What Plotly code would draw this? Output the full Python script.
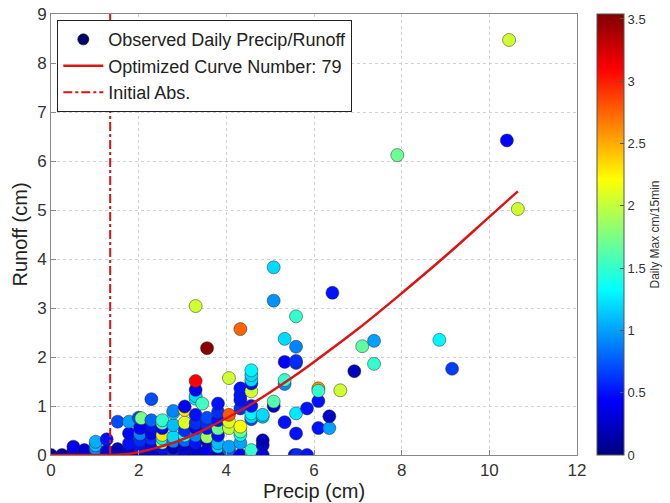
import plotly.graph_objects as go

# ---------------- data ----------------
precip = [
    0.0, 0.25,
    0.51, 0.51, 0.51,
    0.76, 0.76, 0.76,
    1.02, 1.02, 1.02, 1.02, 1.02,
    1.27, 1.27, 1.27,
    1.52, 1.52, 1.52, 1.52,
    1.78, 1.78, 1.78, 1.78, 1.78,
    2.03, 2.03, 2.03, 2.03, 2.03, 2.03, 2.0, 2.06,
    2.29, 2.29, 2.29, 2.29, 2.29, 2.29, 2.29, 2.29,
    2.54, 2.54, 2.54, 2.54, 2.54, 2.54, 2.54, 2.54, 2.54,
    2.79, 2.79, 2.79, 2.79, 2.79, 2.79, 2.79, 2.79,
    3.05, 3.05, 3.05, 3.05, 3.05, 3.05, 3.05, 3.05, 3.05,
    3.30, 3.30, 3.30, 3.30, 3.30, 3.30, 3.30, 3.30, 3.30, 3.30, 3.30, 3.30,
    3.56, 3.56, 3.56, 3.56, 3.56, 3.56, 3.56, 3.45, 3.56,
    3.81, 3.81, 3.81, 3.81, 3.81, 3.81, 3.81, 3.81,
    4.06, 4.06, 4.06, 4.06, 4.06, 4.06, 4.06, 4.06,
    4.32, 4.32, 4.32, 4.32, 4.32, 4.32, 4.32, 4.32, 4.32, 4.32,
    4.57, 4.57, 4.57, 4.57, 4.57, 4.57, 4.57, 4.57, 4.57, 4.57, 4.57, 4.57,
    4.83, 4.83, 4.83, 4.83, 4.83,
    5.08, 5.08, 5.08, 5.08,
    5.33, 5.33, 5.33, 5.33, 5.33,
    5.56, 5.62, 5.59, 5.59, 5.59, 5.59, 5.59, 5.59,
    5.84, 5.84,
    6.10, 6.10, 6.10, 6.10,
    6.35, 6.35,
    6.42, 6.60, 6.92, 7.10, 7.37, 7.37, 7.90, 8.86, 9.15,
    10.40, 10.45, 10.65,
]
runoff = [
    0.0, 0.0,
    0.0, 0.08, 0.17,
    0.0, 0.08, 0.10,
    0.0, 0.05, 0.12, 0.20, 0.27,
    0.0, 0.08, 0.32,
    0.0, 0.06, 0.12, 0.68,
    0.0, 0.10, 0.24, 0.44, 0.68,
    0.0, 0.05, 0.15, 0.30, 0.43, 0.55, 0.76, 0.75,
    0.0, 0.10, 0.20, 0.33, 0.44, 0.60, 0.71, 1.14,
    0.0, 0.07, 0.15, 0.25, 0.34, 0.41, 0.55, 0.65, 0.71,
    0.0, 0.05, 0.15, 0.28, 0.37, 0.61, 0.86, 0.90,
    0.0, 0.10, 0.20, 0.30, 0.40, 0.50, 0.66, 0.92, 0.99,
    0.0, 0.10, 0.25, 0.40, 0.55, 0.65, 0.82, 1.15, 1.20, 1.33, 1.51, 3.04,
    0.0, 0.10, 0.30, 0.37, 0.55, 0.63, 0.76, 1.05, 2.18,
    0.0, 0.17, 0.24, 0.40, 0.54, 0.71, 0.88, 1.05,
    0.0, 0.10, 0.17, 0.58, 0.55, 0.68, 0.82, 1.57,
    0.0, 0.25, 0.41, 0.48, 0.58, 0.95, 1.12, 1.22, 1.36, 2.57,
    0.0, 0.05, 0.10, 0.73, 0.78, 0.85, 1.00, 1.30, 1.46, 1.53, 1.63, 1.73,
    0.0, 0.20, 0.30, 0.78, 0.82,
    1.00, 1.09, 3.15, 3.83,
    0.67, 1.45, 1.53, 1.90, 2.37,
    0.0, 0.0, 0.44, 0.85, 1.88, 1.92, 2.21, 2.83,
    0.0, 0.95,
    0.55, 1.10, 1.36, 1.31,
    0.55, 0.79,
    3.31, 1.32, 1.71, 2.22, 2.33, 1.86, 6.12, 2.35, 1.76,
    6.42, 8.47, 5.02,
]
max_intensity = [
    0.10, 0.10,
    0.20, 0.30, 0.40,
    0.10, 0.20, 0.30,
    0.20, 0.40, 0.90, 1.10, 1.05,
    0.10, 0.30, 0.50,
    0.10, 0.30, 0.20, 0.70,
    0.20, 0.30, 0.50, 0.45, 1.00,
    0.10, 0.30, 0.50, 0.60, 0.90, 0.40, 0.70, 1.75,
    0.20, 0.30, 0.40, 0.60, 0.40, 0.50, 0.80, 0.70,
    0.10, 0.30, 0.50, 1.90, 1.30, 2.30, 0.40, 1.60, 1.50,
    0.30, 0.60, 0.20, 0.90, 1.20, 1.10, 1.20, 0.90,
    0.20, 0.40, 0.30, 0.80, 1.40, 0.60, 2.10, 2.30, 0.40,
    0.10, 0.30, 0.50, 0.90, 0.40, 0.60, 0.50, 1.30, 1.20, 0.40, 3.10, 2.05,
    0.20, 0.40, 0.30, 1.90, 0.50, 0.60, 0.70, 1.55, 3.50,
    0.20, 1.20, 1.10, 0.50, 1.70, 0.50, 0.60, 0.50,
    0.40, 0.80, 1.00, 1.20, 2.00, 2.10, 2.80, 2.05,
    0.40, 1.00, 1.30, 1.70, 2.20, 0.60, 0.50, 0.50, 0.50, 2.75,
    0.50, 1.60, 1.50, 0.70, 1.20, 1.30, 0.50, 2.05, 0.50, 1.20, 1.20, 1.30,
    0.40, 0.30, 0.20, 1.10, 1.20,
    0.25, 1.60, 0.95, 1.20,
    0.50, 0.90, 1.50, 0.45, 1.20,
    0.50, 0.60, 0.50, 1.25, 0.60, 0.60, 0.90, 1.50,
    0.50, 0.50,
    0.50, 0.50, 2.60, 1.50,
    1.00, 0.25,
    0.50, 2.05, 0.20, 1.65, 1.00, 1.50, 1.70, 1.30, 0.65,
    0.45, 2.05, 2.05,
]

# optimized curve (CN 79)
curve_precip = [0.0, 0.5, 1.0, 1.35, 1.5, 1.75, 2.0, 2.25, 2.5, 3.0, 3.5, 4.0,
                4.5, 5.0, 5.5, 6.0, 7.0, 8.0, 9.0, 10.0, 10.65]
curve_runoff = [0.0, 0.0, 0.0, 0.0, 0.003, 0.022, 0.057, 0.11, 0.17, 0.32, 0.52,
                0.75, 1.0, 1.28, 1.58, 1.90, 2.57, 3.30, 4.06, 4.86, 5.38]

initial_abs = 1.35          # cm
ia_span = [0, 9]            # runoff extent of the initial-abstraction line

x_ticks = [0, 2, 4, 6, 8, 10, 12]
y_ticks = [0, 1, 2, 3, 4, 5, 6, 7, 8, 9]
cbar_ticks = [0, 0.5, 1, 1.5, 2, 2.5, 3, 3.5]

jet = [[0.0, "rgb(0,0,128)"], [0.125, "rgb(0,0,255)"], [0.375, "rgb(0,255,255)"],
       [0.625, "rgb(255,255,0)"], [0.875, "rgb(255,0,0)"], [1.0, "rgb(128,0,0)"]]

FONT = "Liberation Sans, Arial, sans-serif"

fig = go.Figure()

fig.add_trace(go.Scatter(
    x=precip, y=runoff, mode="markers", showlegend=False,
    marker=dict(size=13, color=max_intensity, colorscale=jet, cmin=0, cmax=3.54,
                line=dict(color="rgba(40,40,40,0.7)", width=0.7),
                colorbar=dict(
                    x=1.038, xanchor="left", y=0.5, yanchor="middle", len=1.0,
                    lenmode="fraction", thickness=27, xpad=0, ypad=0,
                    outlinecolor="#555", outlinewidth=1,
                    tickvals=cbar_ticks, ticks="inside", ticklen=4, tickcolor="#555",
                    tickfont=dict(family=FONT, size=13, color="#333"),
                    title=dict(text="Daily Max cm/15min", side="right",
                               font=dict(family=FONT, size=12, color="#333")),
                )),
))

# legend proxy for observed points
fig.add_trace(go.Scatter(
    x=[None], y=[None], mode="markers", name="Observed Daily Precip/Runoff",
    marker=dict(size=11, color="rgb(0,0,110)", line=dict(color="#111", width=0.7)),
))

fig.add_trace(go.Scatter(
    x=curve_precip, y=curve_runoff, mode="lines", line_shape="spline",
    name="Optimized Curve Number: 79",
    line=dict(color="rgb(220,20,20)", width=2.5),
))

fig.add_trace(go.Scatter(
    x=[initial_abs, initial_abs], y=ia_span, mode="lines", name="Initial Abs.",
    line=dict(color="rgb(220,20,20)", width=2, dash="dashdot"),
))

axis_common = dict(
    showline=True, mirror=True, linecolor="#888", linewidth=1,
    ticks="inside", ticklen=5, tickcolor="#888",
    showgrid=True, gridcolor="#d2d2d2", griddash="dot", gridwidth=1,
    zeroline=False, tickfont=dict(family=FONT, size=17, color="#333"),
    automargin=False,
)

fig.update_xaxes(range=[0, 12], tickvals=x_ticks, **axis_common,
                 title=dict(text="Precip (cm)", font=dict(family=FONT, size=20, color="#222"),
                            standoff=2))
fig.update_yaxes(range=[0, 9], tickvals=y_ticks, **axis_common,
                 title=dict(text="Runoff (cm)", font=dict(family=FONT, size=20, color="#222"),
                            standoff=4))

fig.update_layout(
    width=670, height=503,
    margin=dict(l=51, r=93, t=14, b=48, autoexpand=False),
    paper_bgcolor="white", plot_bgcolor="white",
    font=dict(family=FONT, color="#222"),
    legend=dict(x=0.012, y=0.986, xanchor="left", yanchor="top",
                bgcolor="white", bordercolor="#222", borderwidth=1,
                font=dict(family=FONT, size=18, color="#222"),
                tracegroupgap=0, itemwidth=40),
)

fig.write_html("out.html")
